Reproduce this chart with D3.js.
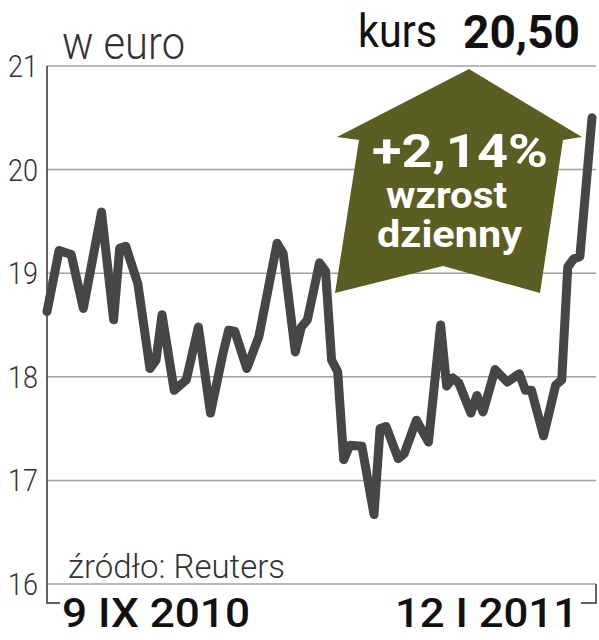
<!DOCTYPE html>
<html>
<head>
<meta charset="utf-8">
<script src="https://cdnjs.cloudflare.com/ajax/libs/d3/7.8.5/d3.min.js"></script>
<style>
  body { margin: 0; background: #fff; }
  svg text { font-family: "Liberation Sans Narrow", Roboto, "DejaVu Sans Condensed", sans-serif; }
</style>
</head>
<body>
<div id="chart"></div>
<script>
// trading day index since 9 IX 2010, and closing price in euro
const days = [0, 2, 4, 6, 9, 11, 12, 13, 15, 17, 18, 19, 21, 23, 25, 27, 29, 30, 31, 33, 35, 38, 39, 41, 42, 43, 45, 46, 47, 48, 49, 50, 52, 54, 55, 56, 58, 59, 61, 63, 65, 66, 67, 68, 70, 71, 72, 74, 76, 78, 79, 80, 82, 84, 85, 86, 87, 88, 90];
const price = [18.63, 19.22, 19.18, 18.66, 19.59, 18.55, 19.24, 19.26, 18.90, 18.08, 18.16, 18.60, 17.87, 17.97, 18.48, 17.65, 18.21, 18.45, 18.44, 18.08, 18.39, 19.29, 19.19, 18.24, 18.48, 18.55, 19.10, 19.02, 18.16, 18.05, 17.20, 17.34, 17.33, 16.67, 17.50, 17.52, 17.21, 17.26, 17.58, 17.37, 18.50, 17.91, 17.99, 17.94, 17.65, 17.82, 17.66, 18.07, 17.95, 18.03, 17.87, 17.87, 17.43, 17.92, 17.97, 19.06, 19.14, 19.16, 20.50];
const yTicks = [16, 17, 18, 19, 20, 21];
const dateLabels = ["9 IX 2010", "12 I 2011"];
const unitLabel = "w euro";
const lastLabel = "kurs";
const lastValue = "20,50";
const changeLines = ["+2,14%", "wzrost", "dzienny"];
const sourceLabel = "źródło: Reuters";

const width = 599, height = 640;
const margin = {top: 66, right: 3, bottom: 56, left: 47};

const svg = d3.select('#chart').append('svg')
  .attr('width', width)
  .attr('height', height);

const x = d3.scaleLinear().domain([0, 90]).range([margin.left, 592]);
const y = d3.scaleLinear().domain([16, 21]).range([height - margin.bottom, margin.top]);

// gridlines
svg.append('g')
  .selectAll('line')
  .data(yTicks)
  .enter().append('line')
    .attr('x1', margin.left)
    .attr('x2', width - margin.right)
    .attr('y1', d => y(d))
    .attr('y2', d => y(d))
    .style('stroke', '#a0a0a0')
    .style('stroke-width', 1.5);

// tick labels
svg.append('g')
  .selectAll('text')
  .data(yTicks)
  .enter().append('text')
    .attr('x', 38)
    .attr('y', d => y(d) + 11)
    .attr('text-anchor', 'end')
    .attr('textLength', 30)
    .attr('lengthAdjust', 'spacingAndGlyphs')
    .style('font-size', '32px')
    .style('font-weight', 300)
    .style('fill', '#333')
    .text(d => d);

// left axis + bottom bracket
const yb = height - 37;
svg.append('path')
  .attr('d', `M${margin.left},${y(21)}V${yb}H60`)
  .style('fill', 'none')
  .style('stroke', '#333')
  .style('stroke-width', 1.5);
svg.append('path')
  .attr('d', `M${width - margin.right},${y(16)}V${yb}H581`)
  .style('fill', 'none')
  .style('stroke', '#333')
  .style('stroke-width', 1.5);

// arrow annotation
const arrow = [[469, 69], [582, 137], [563, 140], [540, 293], [443, 266], [335, 293], [359, 140], [337, 137]];
svg.append('path')
  .attr('d', d3.line()(arrow) + 'Z')
  .style('fill', '#5b5e23');

const line = d3.line()
  .x((d, i) => x(days[i]))
  .y(d => y(d));

svg.append('path')
  .datum(price)
  .attr('d', line)
  .style('fill', 'none')
  .style('stroke', '#464646')
  .style('stroke-width', 9)
  .style('stroke-linejoin', 'round')
  .style('stroke-linecap', 'round');

// texts
function label(txt, xx, yy, size, weight, len, color) {
  svg.append('text')
    .attr('x', xx)
    .attr('y', yy)
    .attr('textLength', len)
    .attr('lengthAdjust', 'spacingAndGlyphs')
    .style('font-size', size + 'px')
    .style('font-weight', weight)
    .style('fill', color)
    .text(txt);
}

label(unitLabel, 62, 59, 47, 300, 123, '#333');
label(lastLabel, 358, 47, 46, 400, 79, '#111');
label(lastValue, 463, 48, 47, 700, 117, '#111');
label(changeLines[0], 372, 167, 47, 700, 176, '#fff');
label(changeLines[1], 386, 208, 36, 700, 121, '#fff');
label(changeLines[2], 377, 247, 36, 700, 145, '#fff');
label(sourceLabel, 68, 578, 33, 300, 217, '#333');
label(dateLabels[0], 62, 627, 41, 500, 188, '#111');
label(dateLabels[1], 395, 627, 41, 500, 183, '#111');
</script>
</body>
</html>
